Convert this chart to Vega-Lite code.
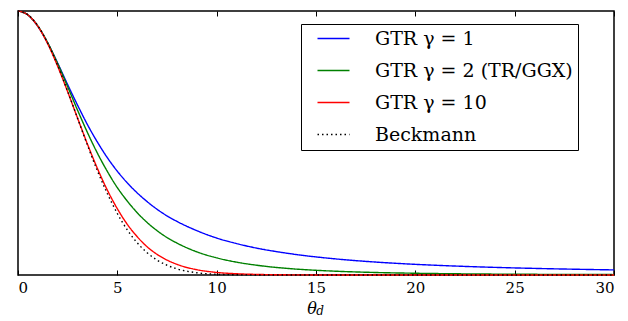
{
  "$schema": "https://vega.github.io/schema/vega-lite/v6.json",
  "width": 596,
  "height": 264,
  "autosize": "none",
  "padding": {"left": 18, "top": 11, "right": 14, "bottom": 46},
  "background": "white",
  "config": {
    "view": {"stroke": "black", "strokeWidth": 1.5},
    "axis": {
      "labelFont": "DejaVu Serif",
      "labelFontSize": 15,
      "labelColor": "black",
      "tickColor": "black",
      "tickWidth": 1,
      "tickSize": -5,
      "domain": false,
      "grid": false,
      "titleFont": "DejaVu Serif",
      "titleColor": "black"
    },
    "legend": {
      "labelFont": "DejaVu Serif",
      "labelFontSize": 19,
      "labelColor": "black"
    }
  },
  "datasets": {
    "curves": [
      {"theta": 0, "series": "GTR γ = 1", "value": 1},
      {"theta": 0.5, "series": "GTR γ = 1", "value": 0.985},
      {"theta": 1, "series": "GTR γ = 1", "value": 0.942},
      {"theta": 1.5, "series": "GTR γ = 1", "value": 0.878},
      {"theta": 2, "series": "GTR γ = 1", "value": 0.802},
      {"theta": 2.5, "series": "GTR γ = 1", "value": 0.721},
      {"theta": 3, "series": "GTR γ = 1", "value": 0.643},
      {"theta": 3.5, "series": "GTR γ = 1", "value": 0.569},
      {"theta": 4, "series": "GTR γ = 1", "value": 0.503},
      {"theta": 4.5, "series": "GTR γ = 1", "value": 0.444},
      {"theta": 5, "series": "GTR γ = 1", "value": 0.393},
      {"theta": 5.5, "series": "GTR γ = 1", "value": 0.349},
      {"theta": 6, "series": "GTR γ = 1", "value": 0.311},
      {"theta": 6.5, "series": "GTR γ = 1", "value": 0.278},
      {"theta": 7, "series": "GTR γ = 1", "value": 0.249},
      {"theta": 7.5, "series": "GTR γ = 1", "value": 0.224},
      {"theta": 8, "series": "GTR γ = 1", "value": 0.203},
      {"theta": 9, "series": "GTR γ = 1", "value": 0.168},
      {"theta": 10, "series": "GTR γ = 1", "value": 0.140},
      {"theta": 11, "series": "GTR γ = 1", "value": 0.119},
      {"theta": 12, "series": "GTR γ = 1", "value": 0.102},
      {"theta": 13, "series": "GTR γ = 1", "value": 0.0887},
      {"theta": 14, "series": "GTR γ = 1", "value": 0.0776},
      {"theta": 16, "series": "GTR γ = 1", "value": 0.0609},
      {"theta": 18, "series": "GTR γ = 1", "value": 0.0490},
      {"theta": 20, "series": "GTR γ = 1", "value": 0.0404},
      {"theta": 22, "series": "GTR γ = 1", "value": 0.0339},
      {"theta": 24, "series": "GTR γ = 1", "value": 0.0289},
      {"theta": 26, "series": "GTR γ = 1", "value": 0.0250},
      {"theta": 28, "series": "GTR γ = 1", "value": 0.0219},
      {"theta": 30, "series": "GTR γ = 1", "value": 0.0193},

      {"theta": 0, "series": "GTR γ = 2 (TR/GGX)", "value": 1},
      {"theta": 0.5, "series": "GTR γ = 2 (TR/GGX)", "value": 0.985},
      {"theta": 1, "series": "GTR γ = 2 (TR/GGX)", "value": 0.943},
      {"theta": 1.5, "series": "GTR γ = 2 (TR/GGX)", "value": 0.879},
      {"theta": 2, "series": "GTR γ = 2 (TR/GGX)", "value": 0.800},
      {"theta": 2.5, "series": "GTR γ = 2 (TR/GGX)", "value": 0.713},
      {"theta": 3, "series": "GTR γ = 2 (TR/GGX)", "value": 0.624},
      {"theta": 3.5, "series": "GTR γ = 2 (TR/GGX)", "value": 0.539},
      {"theta": 4, "series": "GTR γ = 2 (TR/GGX)", "value": 0.461},
      {"theta": 4.5, "series": "GTR γ = 2 (TR/GGX)", "value": 0.392},
      {"theta": 5, "series": "GTR γ = 2 (TR/GGX)", "value": 0.331},
      {"theta": 5.5, "series": "GTR γ = 2 (TR/GGX)", "value": 0.280},
      {"theta": 6, "series": "GTR γ = 2 (TR/GGX)", "value": 0.236},
      {"theta": 6.5, "series": "GTR γ = 2 (TR/GGX)", "value": 0.199},
      {"theta": 7, "series": "GTR γ = 2 (TR/GGX)", "value": 0.168},
      {"theta": 7.5, "series": "GTR γ = 2 (TR/GGX)", "value": 0.142},
      {"theta": 8, "series": "GTR γ = 2 (TR/GGX)", "value": 0.121},
      {"theta": 9, "series": "GTR γ = 2 (TR/GGX)", "value": 0.0878},
      {"theta": 10, "series": "GTR γ = 2 (TR/GGX)", "value": 0.0649},
      {"theta": 11, "series": "GTR γ = 2 (TR/GGX)", "value": 0.0487},
      {"theta": 12, "series": "GTR γ = 2 (TR/GGX)", "value": 0.0371},
      {"theta": 13, "series": "GTR γ = 2 (TR/GGX)", "value": 0.0286},
      {"theta": 14, "series": "GTR γ = 2 (TR/GGX)", "value": 0.0224},
      {"theta": 16, "series": "GTR γ = 2 (TR/GGX)", "value": 0.0143},
      {"theta": 18, "series": "GTR γ = 2 (TR/GGX)", "value": 0.0095},
      {"theta": 20, "series": "GTR γ = 2 (TR/GGX)", "value": 0.0066},
      {"theta": 22, "series": "GTR γ = 2 (TR/GGX)", "value": 0.0047},
      {"theta": 24, "series": "GTR γ = 2 (TR/GGX)", "value": 0.0034},
      {"theta": 26, "series": "GTR γ = 2 (TR/GGX)", "value": 0.0026},
      {"theta": 28, "series": "GTR γ = 2 (TR/GGX)", "value": 0.0020},
      {"theta": 30, "series": "GTR γ = 2 (TR/GGX)", "value": 0.0016},

      {"theta": 0, "series": "GTR γ = 10", "value": 1},
      {"theta": 0.5, "series": "GTR γ = 10", "value": 0.985},
      {"theta": 1, "series": "GTR γ = 10", "value": 0.942},
      {"theta": 1.5, "series": "GTR γ = 10", "value": 0.875},
      {"theta": 2, "series": "GTR γ = 10", "value": 0.790},
      {"theta": 2.5, "series": "GTR γ = 10", "value": 0.694},
      {"theta": 3, "series": "GTR γ = 10", "value": 0.594},
      {"theta": 3.5, "series": "GTR γ = 10", "value": 0.495},
      {"theta": 4, "series": "GTR γ = 10", "value": 0.403},
      {"theta": 4.5, "series": "GTR γ = 10", "value": 0.321},
      {"theta": 5, "series": "GTR γ = 10", "value": 0.251},
      {"theta": 5.5, "series": "GTR γ = 10", "value": 0.192},
      {"theta": 6, "series": "GTR γ = 10", "value": 0.145},
      {"theta": 6.5, "series": "GTR γ = 10", "value": 0.107},
      {"theta": 7, "series": "GTR γ = 10", "value": 0.0783},
      {"theta": 7.5, "series": "GTR γ = 10", "value": 0.0566},
      {"theta": 8, "series": "GTR γ = 10", "value": 0.0404},
      {"theta": 9, "series": "GTR γ = 10", "value": 0.0201},
      {"theta": 10, "series": "GTR γ = 10", "value": 0.0097},
      {"theta": 11, "series": "GTR γ = 10", "value": 0.0047},
      {"theta": 12, "series": "GTR γ = 10", "value": 0.0022},
      {"theta": 13, "series": "GTR γ = 10", "value": 0.0010},
      {"theta": 14, "series": "GTR γ = 10", "value": 0.0005},
      {"theta": 16, "series": "GTR γ = 10", "value": 0.0001},
      {"theta": 18, "series": "GTR γ = 10", "value": 0},
      {"theta": 20, "series": "GTR γ = 10", "value": 0},
      {"theta": 22, "series": "GTR γ = 10", "value": 0},
      {"theta": 24, "series": "GTR γ = 10", "value": 0},
      {"theta": 26, "series": "GTR γ = 10", "value": 0},
      {"theta": 28, "series": "GTR γ = 10", "value": 0},
      {"theta": 30, "series": "GTR γ = 10", "value": 0},

      {"theta": 0, "series": "Beckmann", "value": 1},
      {"theta": 0.5, "series": "Beckmann", "value": 0.986},
      {"theta": 1, "series": "Beckmann", "value": 0.944},
      {"theta": 1.5, "series": "Beckmann", "value": 0.878},
      {"theta": 2, "series": "Beckmann", "value": 0.793},
      {"theta": 2.5, "series": "Beckmann", "value": 0.696},
      {"theta": 3, "series": "Beckmann", "value": 0.593},
      {"theta": 3.5, "series": "Beckmann", "value": 0.491},
      {"theta": 4, "series": "Beckmann", "value": 0.394},
      {"theta": 4.5, "series": "Beckmann", "value": 0.308},
      {"theta": 5, "series": "Beckmann", "value": 0.233},
      {"theta": 5.5, "series": "Beckmann", "value": 0.171},
      {"theta": 6, "series": "Beckmann", "value": 0.122},
      {"theta": 6.5, "series": "Beckmann", "value": 0.0845},
      {"theta": 7, "series": "Beckmann", "value": 0.0567},
      {"theta": 7.5, "series": "Beckmann", "value": 0.0369},
      {"theta": 8, "series": "Beckmann", "value": 0.0233},
      {"theta": 9, "series": "Beckmann", "value": 0.0084},
      {"theta": 10, "series": "Beckmann", "value": 0.0027},
      {"theta": 11, "series": "Beckmann", "value": 0.0008},
      {"theta": 12, "series": "Beckmann", "value": 0.0002},
      {"theta": 13, "series": "Beckmann", "value": 0},
      {"theta": 14, "series": "Beckmann", "value": 0},
      {"theta": 16, "series": "Beckmann", "value": 0},
      {"theta": 18, "series": "Beckmann", "value": 0},
      {"theta": 20, "series": "Beckmann", "value": 0},
      {"theta": 22, "series": "Beckmann", "value": 0},
      {"theta": 24, "series": "Beckmann", "value": 0},
      {"theta": 26, "series": "Beckmann", "value": 0},
      {"theta": 28, "series": "Beckmann", "value": 0},
      {"theta": 30, "series": "Beckmann", "value": 0}
    ]
  },
  "layer": [
    {
      "data": {"name": "curves"},
      "mark": {"type": "line", "strokeWidth": 1.4, "interpolate": "monotone"},
      "encoding": {
        "x": {
          "field": "theta",
          "type": "quantitative",
          "scale": {"domain": [0, 30], "nice": false},
          "axis": {
            "orient": "bottom",
            "values": [0, 5, 10, 15, 20, 25, 30],
            "labelPadding": 10,
            "title": "θ",
            "titleFontSize": 16,
            "titleFontStyle": "italic",
            "titleFontWeight": "normal",
            "titleX": 293.5,
            "titleY": 38,
            "titleBaseline": "alphabetic",
            "titleAlign": "center"
          }
        },
        "y": {
          "field": "value",
          "type": "quantitative",
          "scale": {"domain": [0, 1], "nice": false},
          "axis": null
        },
        "color": {
          "field": "series",
          "type": "nominal",
          "scale": {
            "domain": ["GTR γ = 1", "GTR γ = 2 (TR/GGX)", "GTR γ = 10", "Beckmann"],
            "range": ["#0000ff", "#008000", "#ff0000", "#000000"]
          },
          "legend": {
            "title": null,
            "orient": "none",
            "legendX": 283,
            "legendY": 13,
            "strokeColor": "black",
            "fillColor": "white",
            "padding": 5,
            "symbolOffset": 18,
            "symbolType": "M-2,0H2",
            "symbolSize": 256,
            "symbolStrokeWidth": 1.4,
            "symbolFillColor": "transparent",
            "labelOffset": 32,
            "rowPadding": 12,
            "labelLimit": 400
          }
        },
        "strokeDash": {
          "field": "series",
          "type": "nominal",
          "scale": {
            "domain": ["GTR γ = 1", "GTR γ = 2 (TR/GGX)", "GTR γ = 10", "Beckmann"],
            "range": [[1, 0], [1, 0], [1, 0], [1.5, 3]]
          },
          "legend": {
            "title": null,
            "orient": "none",
            "legendX": 283,
            "legendY": 13,
            "strokeColor": "black",
            "fillColor": "white",
            "padding": 5,
            "symbolOffset": 18,
            "symbolType": "M-2,0H2",
            "symbolSize": 256,
            "symbolStrokeWidth": 1.4,
            "symbolFillColor": "transparent",
            "labelOffset": 32,
            "rowPadding": 12,
            "labelLimit": 400
          }
        }
      }
    },
    {
      "data": {"name": "curves"},
      "mark": {"type": "rule", "opacity": 0},
      "encoding": {
        "x": {
          "field": "theta",
          "type": "quantitative",
          "scale": {"domain": [0, 30], "nice": false},
          "axis": {"orient": "top", "values": [0, 5, 10, 15, 20, 25, 30], "labels": false, "title": null}
        }
      }
    },
    {
      "data": {"values": [{}]},
      "mark": {"type": "text", "text": "d", "font": "DejaVu Serif", "fontStyle": "italic", "fontSize": 12, "baseline": "alphabetic", "align": "center", "dx": 4, "dy": 40, "color": "black"},
      "encoding": {
        "x": {"datum": 15, "type": "quantitative", "axis": null},
        "y": {"datum": 0, "type": "quantitative", "axis": null}
      }
    }
  ],
  "resolve": {"axis": {"x": "independent"}}
}
